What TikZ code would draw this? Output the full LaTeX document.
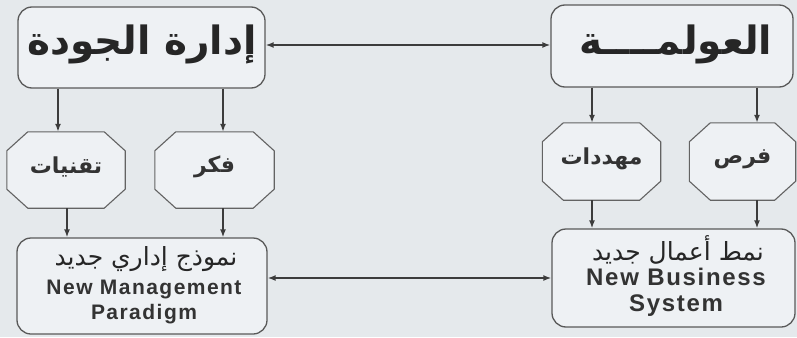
\documentclass[tikz,border=0pt]{standalone}
\usepackage{fontspec}
\TeXXeTstate=1
\newfontfamily\arabicfont[Script=Arabic]{DejaVu Sans}
\newfontfamily\enfont[LetterSpace=7]{Liberation Sans}
\usetikzlibrary{arrows.meta,backgrounds}
\definecolor{bgc}{HTML}{E5E9EC}
\definecolor{boxfill}{HTML}{EEF1F4}
\definecolor{linec}{HTML}{3C3C3C}
\begin{document}
\begin{tikzpicture}[x=1pt,y=-1pt,
  rbox/.style={draw=linec!85,fill=boxfill,rounded corners=14pt,line width=1.3pt,inner sep=0pt},
  octa/.style={inner sep=0pt},
  octline/.style={draw=linec!80,fill=boxfill,line width=1.1pt},
  conn/.style={draw=linec,line width=1.7pt,-{Latex[length=8pt,width=6pt]}},
  dconn/.style={draw=linec,line width=1.7pt,{Latex[length=8pt,width=6pt]}-{Latex[length=8pt,width=6pt]}},
  artop/.style={font=\arabicfont\bfseries\fontsize{39}{44}\selectfont,text=black!85},
  arocta/.style={font=\arabicfont\bfseries\fontsize{22}{26}\selectfont,text=black!80},
  arbot/.style={font=\arabicfont\fontsize{25}{28}\selectfont,text=black!85},
  enleft/.style={font=\enfont\bfseries\fontsize{21}{23}\selectfont,text=black!80},
  enright/.style={font=\enfont\bfseries\fontsize{24}{26}\selectfont,text=black!80},
]
\useasboundingbox (0,0) rectangle (797,337);

% top boxes
\node[rbox,minimum width=247pt,minimum height=81pt] (A) at (141.5,47.5) {};
\node[artop] (At) at (142,44) {\beginR إدارة الجودة\endR};
\node[rbox,minimum width=242pt,minimum height=82pt] (B) at (672,46) {};
\node[artop] (Bt) at (676,44) {\beginR العولمــــة\endR};

% octagons (text nodes; outlines drawn on background layer)
\node[octa,minimum width=118pt,minimum height=76pt] (O1) at (66,170) {};
\node[arocta] (O1t) at (66,167) {\beginR تقنيات\endR};
\node[octa,minimum width=119pt,minimum height=76pt] (O2) at (214.5,170) {};
\node[arocta] (O2t) at (214.5,167) {\beginR فكر\endR};
\node[octa,minimum width=118pt,minimum height=77pt] (O3) at (601.5,161.5) {};
\node[arocta] (O3t) at (601.5,159) {\beginR مهددات\endR};
\node[octa,minimum width=106pt,minimum height=77pt] (O4) at (742.5,161.5) {};
\node[arocta] (O4t) at (742.5,159) {\beginR فرص\endR};

% bottom boxes
\node[rbox,minimum width=250pt,minimum height=96pt] (C) at (142,286) {};
\node[arbot] (Ca) at (146,259) {\beginR نموذج إداري جديد\endR};
\node[enleft] (Cb) at (144,289) {New Management};
\node[enleft] (Cc) at (144,314) {Paradigm};

\node[rbox,minimum width=243pt,minimum height=98pt] (D) at (673.5,278) {};
\node[arbot] (Da) at (678,250) {\beginR نمط أعمال جديد\endR};
\node[enright] (Db) at (676,277) {New Business};
\node[enright] (Dc) at (676,306) {System};

\begin{scope}[on background layer]
\fill[bgc] (0,0) rectangle (797,337);
\foreach \o in {O1,O2,O3,O4}{
  \path[octline] ([xshift=21pt]\o.north west) -- ([xshift=-21pt]\o.north east)
    -- ([yshift=-19pt]\o.north east) -- ([yshift=19pt]\o.south east)
    -- ([xshift=-21pt]\o.south east) -- ([xshift=21pt]\o.south west)
    -- ([yshift=19pt]\o.south west) -- ([yshift=-19pt]\o.north west) -- cycle;
}
\end{scope}

% connectors
\draw[dconn] (A.east |- 0,45) -- (B.west |- 0,45);
\draw[dconn] (C.east |- 0,278) -- (D.west |- 0,278);

\draw[conn] (A.south -| 58,0) -- (O1.north -| 58,0);
\draw[conn] (A.south -| 223,0) -- (O2.north -| 223,0);
\draw[conn] (O1.south -| 67,0) -- (C.north -| 67,0);
\draw[conn] (O2.south -| 223,0) -- (C.north -| 223,0);

\draw[conn] (B.south -| 592,0) -- (O3.north -| 592,0);
\draw[conn] (B.south -| 757,0) -- (O4.north -| 757,0);
\draw[conn] (O3.south -| 592,0) -- (D.north -| 592,0);
\draw[conn] (O4.south -| 757,0) -- (D.north -| 757,0);
\end{tikzpicture}
\end{document}
